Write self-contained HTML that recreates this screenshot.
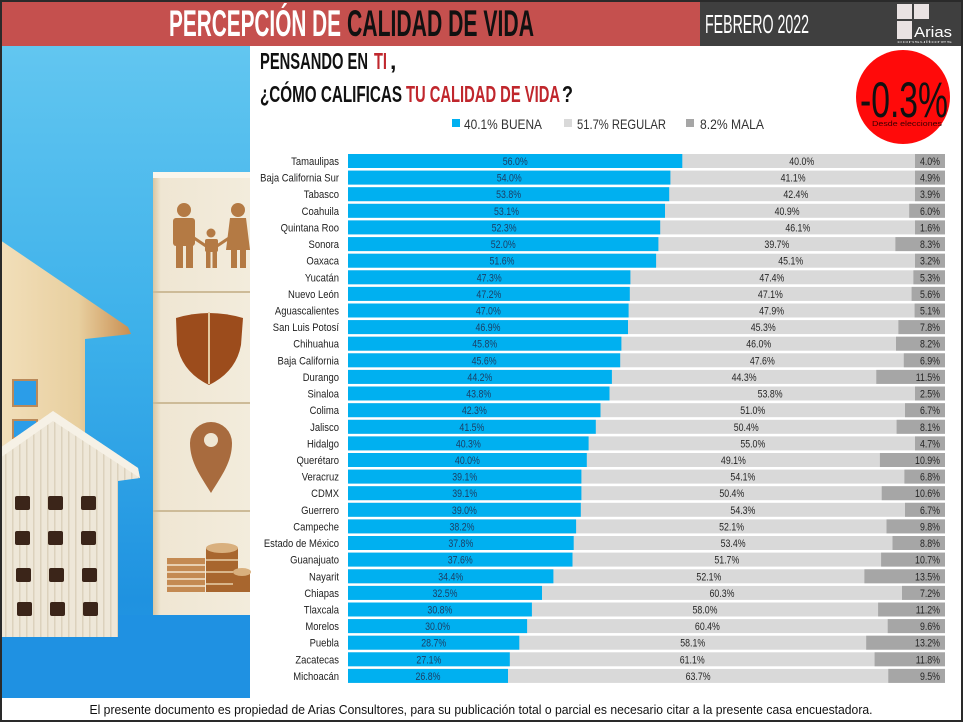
<!DOCTYPE html>
<html><head><meta charset="utf-8"><style>
html,body{margin:0;padding:0;background:#fff;}
svg{display:block;}
text{font-family:"Liberation Sans",Arial,sans-serif;}
</style></head><body>
<svg width="963" height="722" viewBox="0 0 963 722" xmlns="http://www.w3.org/2000/svg">
<defs>
<linearGradient id="sky" x1="0" y1="0" x2="0" y2="1">
<stop offset="0" stop-color="#62c6f0"/><stop offset="0.45" stop-color="#3cb0ea"/><stop offset="0.85" stop-color="#1f92e0"/><stop offset="1" stop-color="#2a9ae6"/>
</linearGradient>
<linearGradient id="backh" x1="0" y1="0" x2="1" y2="0">
<stop offset="0" stop-color="#f2dfba"/><stop offset="0.6" stop-color="#e8cf9f"/><stop offset="1" stop-color="#c98f52"/>
</linearGradient>
<linearGradient id="cube" x1="0" y1="0" x2="1" y2="0">
<stop offset="0" stop-color="#d8c6a2"/><stop offset="0.08" stop-color="#efe6d3"/><stop offset="1" stop-color="#f3ecdc"/>
</linearGradient>
<pattern id="wood" width="7" height="10" patternUnits="userSpaceOnUse">
<rect width="7" height="10" fill="#eee7d8"/><rect x="5" width="1.5" height="10" fill="#dcd2bd"/>
</pattern>
</defs>

<!-- header -->
<rect x="0" y="0" width="700" height="46" fill="#c5504e"/>
<rect x="700" y="0" width="263" height="46" fill="#3f3f3f"/>
<text x="169" y="36" font-size="37" font-weight="bold" fill="#ffffff" textLength="172" lengthAdjust="spacingAndGlyphs">PERCEPCIÓN DE</text>
<text x="347" y="36" font-size="37" font-weight="bold" fill="#111111" textLength="187" lengthAdjust="spacingAndGlyphs">CALIDAD DE VIDA</text>
<text x="705" y="33" font-size="26" fill="#ffffff" textLength="104" lengthAdjust="spacingAndGlyphs">FEBRERO 2022</text>
<rect x="897" y="4" width="15" height="15" fill="#e9e2e2"/>
<rect x="914" y="4" width="15" height="15" fill="#e9e2e2"/>
<rect x="897" y="21" width="15" height="18" fill="#e9e2e2"/>
<text x="914" y="37" font-size="15" fill="#ffffff" textLength="38" lengthAdjust="spacingAndGlyphs">Arias</text>
<text x="897" y="43" font-size="4" fill="#cccccc" textLength="55" lengthAdjust="spacingAndGlyphs">consultores</text>

<!-- left image -->
<rect x="0" y="46" width="250" height="652" fill="url(#sky)"/>
<rect x="0" y="615" width="250" height="83" fill="#1f91e2"/>
<polygon points="0,240 128,327 131,334 85,339 85,470 0,470" fill="url(#backh)"/>
<rect x="13" y="380" width="24" height="26" fill="#2b9de8" stroke="#b9895a" stroke-width="2"/>
<rect x="13" y="420" width="24" height="18" fill="#2b9de8" stroke="#b9895a" stroke-width="2"/>
<polygon points="0,448 53,411 138,468 140,478 118,481 118,637 0,637" fill="url(#wood)"/>
<polygon points="0,448 53,411 138,468 140,478 53,421 0,458" fill="#f6f1e6"/>
<g fill="#3b2519">
<rect x="15" y="496" width="15" height="14" rx="2"/><rect x="48" y="496" width="15" height="14" rx="2"/><rect x="81" y="496" width="15" height="14" rx="2"/>
<rect x="15" y="531" width="15" height="14" rx="2"/><rect x="48" y="531" width="15" height="14" rx="2"/><rect x="81" y="531" width="15" height="14" rx="2"/>
<rect x="16" y="568" width="15" height="14" rx="2"/><rect x="49" y="568" width="15" height="14" rx="2"/><rect x="82" y="568" width="15" height="14" rx="2"/>
<rect x="17" y="602" width="15" height="14" rx="2"/><rect x="50" y="602" width="15" height="14" rx="2"/><rect x="83" y="602" width="15" height="14" rx="2"/>
</g>
<!-- cubes -->
<rect x="153" y="172" width="97" height="443" fill="url(#cube)"/>
<rect x="153" y="172" width="97" height="6" fill="#faf6ec"/>
<g stroke="#cdbb98" stroke-width="2"><line x1="153" y1="292" x2="250" y2="292"/><line x1="153" y1="403" x2="250" y2="403"/><line x1="153" y1="511" x2="250" y2="511"/></g>
<g fill="#b47a44" stroke="none">
<circle cx="184" cy="210" r="7"/><rect x="173" y="218" width="22" height="28" rx="3"/><rect x="176" y="244" width="7" height="24"/><rect x="186" y="244" width="7" height="24"/>
<circle cx="211" cy="233" r="4.5"/><rect x="205" y="239" width="13" height="13" rx="2"/><rect x="206" y="251" width="4.5" height="17"/><rect x="212.5" y="251" width="4.5" height="17"/>
<circle cx="238" cy="210" r="7"/><polygon points="230,218 246,218 250,250 226,250"/><rect x="231" y="249" width="6" height="19"/><rect x="240" y="249" width="6" height="19"/>
</g>
<g stroke="#b47a44" stroke-width="3"><line x1="194" y1="238" x2="206" y2="246"/><line x1="217" y1="246" x2="229" y2="238"/></g>
<path d="M176,318 Q209,308 243,318 L241,345 Q236,372 209,385 Q182,372 177,345 Z" fill="#9c4c1c"/>
<line x1="209" y1="312" x2="209" y2="384" stroke="#e4c9a0" stroke-width="2"/>
<path d="M211,493 C200,475 190,462 190,443 A21,21 0 1 1 232,443 C232,462 222,475 211,493 Z" fill="#a86b3e"/>
<circle cx="211" cy="440" r="7" fill="#efe6d3"/>
<g>
<rect x="167" y="558" width="38" height="34" fill="#c48a52"/>
<g stroke="#f3e6cf" stroke-width="1.5"><line x1="167" y1="565" x2="205" y2="565"/><line x1="167" y1="572" x2="205" y2="572"/><line x1="167" y1="579" x2="205" y2="579"/><line x1="167" y1="586" x2="205" y2="586"/></g>
<rect x="206" y="548" width="32" height="44" fill="#a8662e"/>
<ellipse cx="222" cy="548" rx="16" ry="5" fill="#d9b07e"/>
<g stroke="#e8cfa8" stroke-width="1.5"><line x1="206" y1="560" x2="238" y2="560"/><line x1="206" y1="572" x2="238" y2="572"/><line x1="206" y1="584" x2="238" y2="584"/></g>
<rect x="233" y="572" width="17" height="20" fill="#a8662e"/>
<ellipse cx="242" cy="572" rx="9" ry="4" fill="#d9b07e"/>
</g>

<!-- question -->
<text x="260" y="69" font-size="23" font-weight="bold" fill="#111" textLength="108" lengthAdjust="spacingAndGlyphs">PENSANDO EN</text>
<text x="374" y="69" font-size="23" font-weight="bold" fill="#c0272d" textLength="13" lengthAdjust="spacingAndGlyphs">TI</text>
<text x="390" y="69" font-size="23" font-weight="bold" fill="#111">,</text>
<text x="260" y="102" font-size="23" font-weight="bold" fill="#111" textLength="142" lengthAdjust="spacingAndGlyphs">¿CÓMO CALIFICAS</text>
<text x="406" y="102" font-size="23" font-weight="bold" fill="#c0272d" textLength="154" lengthAdjust="spacingAndGlyphs">TU CALIDAD DE VIDA</text>
<text x="562" y="102" font-size="23" font-weight="bold" fill="#111" textLength="11" lengthAdjust="spacingAndGlyphs">?</text>

<!-- legend -->
<rect x="452" y="119" width="8" height="8" fill="#00b0f0"/>
<text x="464" y="129" font-size="14" fill="#333" textLength="78" lengthAdjust="spacingAndGlyphs">40.1% BUENA</text>
<rect x="564" y="119" width="8" height="8" fill="#d9d9d9"/>
<text x="577" y="129" font-size="14" fill="#333" textLength="89" lengthAdjust="spacingAndGlyphs">51.7% REGULAR</text>
<rect x="686" y="119" width="8" height="8" fill="#a6a6a6"/>
<text x="700" y="129" font-size="14" fill="#333" textLength="64" lengthAdjust="spacingAndGlyphs">8.2% MALA</text>

<!-- circle -->
<circle cx="903" cy="97" r="47" fill="#ff0a0a"/>
<text x="860" y="117" font-size="50" fill="#111" textLength="88" lengthAdjust="spacingAndGlyphs">-0.3%</text>
<text x="872" y="126" font-size="7" fill="#3a0000" textLength="70" lengthAdjust="spacingAndGlyphs">Desde elecciones</text>

<!-- chart -->
<g id="chart" font-size="11">
<g fill="#d9d9d9">
<rect x="348" y="154.0" width="597" height="14"/><rect x="348" y="170.6" width="597" height="14"/><rect x="348" y="187.2" width="597" height="14"/><rect x="348" y="203.8" width="597" height="14"/>
<rect x="348" y="220.4" width="597" height="14"/><rect x="348" y="237.1" width="597" height="14"/><rect x="348" y="253.7" width="597" height="14"/><rect x="348" y="270.3" width="597" height="14"/>
<rect x="348" y="286.9" width="597" height="14"/><rect x="348" y="303.5" width="597" height="14"/><rect x="348" y="320.1" width="597" height="14"/><rect x="348" y="336.7" width="597" height="14"/>
<rect x="348" y="353.3" width="597" height="14"/><rect x="348" y="369.9" width="597" height="14"/><rect x="348" y="386.5" width="597" height="14"/><rect x="348" y="403.2" width="597" height="14"/>
<rect x="348" y="419.8" width="597" height="14"/><rect x="348" y="436.4" width="597" height="14"/><rect x="348" y="453.0" width="597" height="14"/><rect x="348" y="469.6" width="597" height="14"/>
<rect x="348" y="486.2" width="597" height="14"/><rect x="348" y="502.8" width="597" height="14"/><rect x="348" y="519.4" width="597" height="14"/><rect x="348" y="536.0" width="597" height="14"/>
<rect x="348" y="552.6" width="597" height="14"/><rect x="348" y="569.3" width="597" height="14"/><rect x="348" y="585.9" width="597" height="14"/><rect x="348" y="602.5" width="597" height="14"/>
<rect x="348" y="619.1" width="597" height="14"/><rect x="348" y="635.7" width="597" height="14"/><rect x="348" y="652.3" width="597" height="14"/><rect x="348" y="668.9" width="597" height="14"/>
</g>
<g fill="#00b0f0">
<rect x="348" y="154.0" width="334.3" height="14"/><rect x="348" y="170.6" width="322.4" height="14"/><rect x="348" y="187.2" width="321.2" height="14"/><rect x="348" y="203.8" width="317.0" height="14"/>
<rect x="348" y="220.4" width="312.2" height="14"/><rect x="348" y="237.1" width="310.4" height="14"/><rect x="348" y="253.7" width="308.1" height="14"/><rect x="348" y="270.3" width="282.4" height="14"/>
<rect x="348" y="286.9" width="281.8" height="14"/><rect x="348" y="303.5" width="280.6" height="14"/><rect x="348" y="320.1" width="280.0" height="14"/><rect x="348" y="336.7" width="273.4" height="14"/>
<rect x="348" y="353.3" width="272.2" height="14"/><rect x="348" y="369.9" width="263.9" height="14"/><rect x="348" y="386.5" width="261.5" height="14"/><rect x="348" y="403.2" width="252.5" height="14"/>
<rect x="348" y="419.8" width="247.8" height="14"/><rect x="348" y="436.4" width="240.6" height="14"/><rect x="348" y="453.0" width="238.8" height="14"/><rect x="348" y="469.6" width="233.4" height="14"/>
<rect x="348" y="486.2" width="233.4" height="14"/><rect x="348" y="502.8" width="232.8" height="14"/><rect x="348" y="519.4" width="228.1" height="14"/><rect x="348" y="536.0" width="225.7" height="14"/>
<rect x="348" y="552.6" width="224.5" height="14"/><rect x="348" y="569.3" width="205.4" height="14"/><rect x="348" y="585.9" width="194.0" height="14"/><rect x="348" y="602.5" width="183.9" height="14"/>
<rect x="348" y="619.1" width="179.1" height="14"/><rect x="348" y="635.7" width="171.3" height="14"/><rect x="348" y="652.3" width="161.8" height="14"/><rect x="348" y="668.9" width="160.0" height="14"/>
</g>
<g fill="#a6a6a6">
<rect x="915" y="154.0" width="30" height="14"/><rect x="915" y="170.6" width="30" height="14"/><rect x="915" y="187.2" width="30" height="14"/><rect x="909.2" y="203.8" width="35.8" height="14"/>
<rect x="915" y="220.4" width="30" height="14"/><rect x="895.4" y="237.1" width="49.6" height="14"/><rect x="915" y="253.7" width="30" height="14"/><rect x="913.4" y="270.3" width="31.6" height="14"/>
<rect x="911.6" y="286.9" width="33.4" height="14"/><rect x="914.6" y="303.5" width="30.4" height="14"/><rect x="898.4" y="320.1" width="46.6" height="14"/><rect x="896.0" y="336.7" width="49.0" height="14"/>
<rect x="903.8" y="353.3" width="41.2" height="14"/><rect x="876.3" y="369.9" width="68.7" height="14"/><rect x="915" y="386.5" width="30" height="14"/><rect x="905.0" y="403.2" width="40.0" height="14"/>
<rect x="896.6" y="419.8" width="48.4" height="14"/><rect x="915" y="436.4" width="30" height="14"/><rect x="879.9" y="453.0" width="65.1" height="14"/><rect x="904.4" y="469.6" width="40.6" height="14"/>
<rect x="881.7" y="486.2" width="63.3" height="14"/><rect x="905.0" y="502.8" width="40.0" height="14"/><rect x="886.5" y="519.4" width="58.5" height="14"/><rect x="892.5" y="536.0" width="52.5" height="14"/>
<rect x="881.1" y="552.6" width="63.9" height="14"/><rect x="864.4" y="569.3" width="80.6" height="14"/><rect x="902.0" y="585.9" width="43.0" height="14"/><rect x="878.1" y="602.5" width="66.9" height="14"/>
<rect x="887.7" y="619.1" width="57.3" height="14"/><rect x="866.2" y="635.7" width="78.8" height="14"/><rect x="874.6" y="652.3" width="70.4" height="14"/><rect x="888.3" y="668.9" width="56.7" height="14"/>
</g>
<!-- state names -->
<g fill="#222" text-anchor="end">
<text transform="matrix(0.86 0 0 1 339 165.0)">Tamaulipas</text>
<text transform="matrix(0.86 0 0 1 339 181.6)">Baja California Sur</text>
<text transform="matrix(0.86 0 0 1 339 198.2)">Tabasco</text>
<text transform="matrix(0.86 0 0 1 339 214.8)">Coahuila</text>
<text transform="matrix(0.86 0 0 1 339 231.4)">Quintana Roo</text>
<text transform="matrix(0.86 0 0 1 339 248.1)">Sonora</text>
<text transform="matrix(0.86 0 0 1 339 264.7)">Oaxaca</text>
<text transform="matrix(0.86 0 0 1 339 281.3)">Yucatán</text>
<text transform="matrix(0.86 0 0 1 339 297.9)">Nuevo León</text>
<text transform="matrix(0.86 0 0 1 339 314.5)">Aguascalientes</text>
<text transform="matrix(0.86 0 0 1 339 331.1)">San Luis Potosí</text>
<text transform="matrix(0.86 0 0 1 339 347.7)">Chihuahua</text>
<text transform="matrix(0.86 0 0 1 339 364.3)">Baja California</text>
<text transform="matrix(0.86 0 0 1 339 380.9)">Durango</text>
<text transform="matrix(0.86 0 0 1 339 397.5)">Sinaloa</text>
<text transform="matrix(0.86 0 0 1 339 414.2)">Colima</text>
<text transform="matrix(0.86 0 0 1 339 430.8)">Jalisco</text>
<text transform="matrix(0.86 0 0 1 339 447.4)">Hidalgo</text>
<text transform="matrix(0.86 0 0 1 339 464.0)">Querétaro</text>
<text transform="matrix(0.86 0 0 1 339 480.6)">Veracruz</text>
<text transform="matrix(0.86 0 0 1 339 497.2)">CDMX</text>
<text transform="matrix(0.86 0 0 1 339 513.8)">Guerrero</text>
<text transform="matrix(0.86 0 0 1 339 530.4)">Campeche</text>
<text transform="matrix(0.86 0 0 1 339 547.0)">Estado de México</text>
<text transform="matrix(0.86 0 0 1 339 563.6)">Guanajuato</text>
<text transform="matrix(0.86 0 0 1 339 580.3)">Nayarit</text>
<text transform="matrix(0.86 0 0 1 339 596.9)">Chiapas</text>
<text transform="matrix(0.86 0 0 1 339 613.5)">Tlaxcala</text>
<text transform="matrix(0.86 0 0 1 339 630.1)">Morelos</text>
<text transform="matrix(0.86 0 0 1 339 646.7)">Puebla</text>
<text transform="matrix(0.86 0 0 1 339 663.3)">Zacatecas</text>
<text transform="matrix(0.86 0 0 1 339 679.9)">Michoacán</text>
</g>
<!-- buena labels -->
<g fill="#1b3f66" text-anchor="middle">
<text transform="matrix(0.8 0 0 1 515.2 165.0)">56.0%</text>
<text transform="matrix(0.8 0 0 1 509.2 181.6)">54.0%</text>
<text transform="matrix(0.8 0 0 1 508.6 198.2)">53.8%</text>
<text transform="matrix(0.8 0 0 1 506.5 214.8)">53.1%</text>
<text transform="matrix(0.8 0 0 1 504.1 231.4)">52.3%</text>
<text transform="matrix(0.8 0 0 1 503.2 248.1)">52.0%</text>
<text transform="matrix(0.8 0 0 1 502.0 264.7)">51.6%</text>
<text transform="matrix(0.8 0 0 1 489.2 281.3)">47.3%</text>
<text transform="matrix(0.8 0 0 1 488.9 297.9)">47.2%</text>
<text transform="matrix(0.8 0 0 1 488.3 314.5)">47.0%</text>
<text transform="matrix(0.8 0 0 1 488.0 331.1)">46.9%</text>
<text transform="matrix(0.8 0 0 1 484.7 347.7)">45.8%</text>
<text transform="matrix(0.8 0 0 1 484.1 364.3)">45.6%</text>
<text transform="matrix(0.8 0 0 1 479.9 380.9)">44.2%</text>
<text transform="matrix(0.8 0 0 1 478.7 397.5)">43.8%</text>
<text transform="matrix(0.8 0 0 1 474.3 414.2)">42.3%</text>
<text transform="matrix(0.8 0 0 1 471.9 430.8)">41.5%</text>
<text transform="matrix(0.8 0 0 1 468.3 447.4)">40.3%</text>
<text transform="matrix(0.8 0 0 1 467.4 464.0)">40.0%</text>
<text transform="matrix(0.8 0 0 1 464.7 480.6)">39.1%</text>
<text transform="matrix(0.8 0 0 1 464.7 497.2)">39.1%</text>
<text transform="matrix(0.8 0 0 1 464.4 513.8)">39.0%</text>
<text transform="matrix(0.8 0 0 1 462.0 530.4)">38.2%</text>
<text transform="matrix(0.8 0 0 1 460.8 547.0)">37.8%</text>
<text transform="matrix(0.8 0 0 1 460.2 563.6)">37.6%</text>
<text transform="matrix(0.8 0 0 1 450.7 580.3)">34.4%</text>
<text transform="matrix(0.8 0 0 1 445.0 596.9)">32.5%</text>
<text transform="matrix(0.8 0 0 1 439.9 613.5)">30.8%</text>
<text transform="matrix(0.8 0 0 1 437.6 630.1)">30.0%</text>
<text transform="matrix(0.8 0 0 1 433.7 646.7)">28.7%</text>
<text transform="matrix(0.8 0 0 1 428.9 663.3)">27.1%</text>
<text transform="matrix(0.8 0 0 1 428.0 679.9)">26.8%</text>
</g>
<!-- regular labels -->
<g fill="#262626" text-anchor="middle">
<text transform="matrix(0.8 0 0 1 801.7 165.0)">40.0%</text>
<text transform="matrix(0.8 0 0 1 793.1 181.6)">41.1%</text>
<text transform="matrix(0.8 0 0 1 795.8 198.2)">42.4%</text>
<text transform="matrix(0.8 0 0 1 787.1 214.8)">40.9%</text>
<text transform="matrix(0.8 0 0 1 797.8 231.4)">46.1%</text>
<text transform="matrix(0.8 0 0 1 776.9 248.1)">39.7%</text>
<text transform="matrix(0.8 0 0 1 790.7 264.7)">45.1%</text>
<text transform="matrix(0.8 0 0 1 771.9 281.3)">47.4%</text>
<text transform="matrix(0.8 0 0 1 770.4 297.9)">47.1%</text>
<text transform="matrix(0.8 0 0 1 771.6 314.5)">47.9%</text>
<text transform="matrix(0.8 0 0 1 763.2 331.1)">45.3%</text>
<text transform="matrix(0.8 0 0 1 758.7 347.7)">46.0%</text>
<text transform="matrix(0.8 0 0 1 762.3 364.3)">47.6%</text>
<text transform="matrix(0.8 0 0 1 744.1 380.9)">44.3%</text>
<text transform="matrix(0.8 0 0 1 770.1 397.5)">53.8%</text>
<text transform="matrix(0.8 0 0 1 752.7 414.2)">51.0%</text>
<text transform="matrix(0.8 0 0 1 746.2 430.8)">50.4%</text>
<text transform="matrix(0.8 0 0 1 752.8 447.4)">55.0%</text>
<text transform="matrix(0.8 0 0 1 733.4 464.0)">49.1%</text>
<text transform="matrix(0.8 0 0 1 742.9 480.6)">54.1%</text>
<text transform="matrix(0.8 0 0 1 731.8 497.2)">50.4%</text>
<text transform="matrix(0.8 0 0 1 742.9 513.8)">54.3%</text>
<text transform="matrix(0.8 0 0 1 731.6 530.4)">52.1%</text>
<text transform="matrix(0.8 0 0 1 733.1 547.0)">53.4%</text>
<text transform="matrix(0.8 0 0 1 726.8 563.6)">51.7%</text>
<text transform="matrix(0.8 0 0 1 708.9 580.3)">52.1%</text>
<text transform="matrix(0.8 0 0 1 722.0 596.9)">60.3%</text>
<text transform="matrix(0.8 0 0 1 705.0 613.5)">58.0%</text>
<text transform="matrix(0.8 0 0 1 707.4 630.1)">60.4%</text>
<text transform="matrix(0.8 0 0 1 692.7 646.7)">58.1%</text>
<text transform="matrix(0.8 0 0 1 692.2 663.3)">61.1%</text>
<text transform="matrix(0.8 0 0 1 698.1 679.9)">63.7%</text>
</g>
<!-- mala labels -->
<g fill="#262626" text-anchor="end">
<text transform="matrix(0.8 0 0 1 940 165.0)">4.0%</text>
<text transform="matrix(0.8 0 0 1 940 181.6)">4.9%</text>
<text transform="matrix(0.8 0 0 1 940 198.2)">3.9%</text>
<text transform="matrix(0.8 0 0 1 940 214.8)">6.0%</text>
<text transform="matrix(0.8 0 0 1 940 231.4)">1.6%</text>
<text transform="matrix(0.8 0 0 1 940 248.1)">8.3%</text>
<text transform="matrix(0.8 0 0 1 940 264.7)">3.2%</text>
<text transform="matrix(0.8 0 0 1 940 281.3)">5.3%</text>
<text transform="matrix(0.8 0 0 1 940 297.9)">5.6%</text>
<text transform="matrix(0.8 0 0 1 940 314.5)">5.1%</text>
<text transform="matrix(0.8 0 0 1 940 331.1)">7.8%</text>
<text transform="matrix(0.8 0 0 1 940 347.7)">8.2%</text>
<text transform="matrix(0.8 0 0 1 940 364.3)">6.9%</text>
<text transform="matrix(0.8 0 0 1 940 380.9)">11.5%</text>
<text transform="matrix(0.8 0 0 1 940 397.5)">2.5%</text>
<text transform="matrix(0.8 0 0 1 940 414.2)">6.7%</text>
<text transform="matrix(0.8 0 0 1 940 430.8)">8.1%</text>
<text transform="matrix(0.8 0 0 1 940 447.4)">4.7%</text>
<text transform="matrix(0.8 0 0 1 940 464.0)">10.9%</text>
<text transform="matrix(0.8 0 0 1 940 480.6)">6.8%</text>
<text transform="matrix(0.8 0 0 1 940 497.2)">10.6%</text>
<text transform="matrix(0.8 0 0 1 940 513.8)">6.7%</text>
<text transform="matrix(0.8 0 0 1 940 530.4)">9.8%</text>
<text transform="matrix(0.8 0 0 1 940 547.0)">8.8%</text>
<text transform="matrix(0.8 0 0 1 940 563.6)">10.7%</text>
<text transform="matrix(0.8 0 0 1 940 580.3)">13.5%</text>
<text transform="matrix(0.8 0 0 1 940 596.9)">7.2%</text>
<text transform="matrix(0.8 0 0 1 940 613.5)">11.2%</text>
<text transform="matrix(0.8 0 0 1 940 630.1)">9.6%</text>
<text transform="matrix(0.8 0 0 1 940 646.7)">13.2%</text>
<text transform="matrix(0.8 0 0 1 940 663.3)">11.8%</text>
<text transform="matrix(0.8 0 0 1 940 679.9)">9.5%</text>
</g>
</g>

<!-- footer -->
<rect x="0" y="698" width="963" height="24" fill="#ffffff"/>
<text x="481" y="714" font-size="12.5" fill="#111" text-anchor="middle" textLength="783" lengthAdjust="spacingAndGlyphs">El presente documento es propiedad de Arias Consultores, para su publicación total o parcial es necesario citar a la presente casa encuestadora.</text>

<!-- page border -->
<rect x="1" y="1" width="961" height="720" fill="none" stroke="#2a2a2a" stroke-width="2"/>
</svg>
</body></html>
